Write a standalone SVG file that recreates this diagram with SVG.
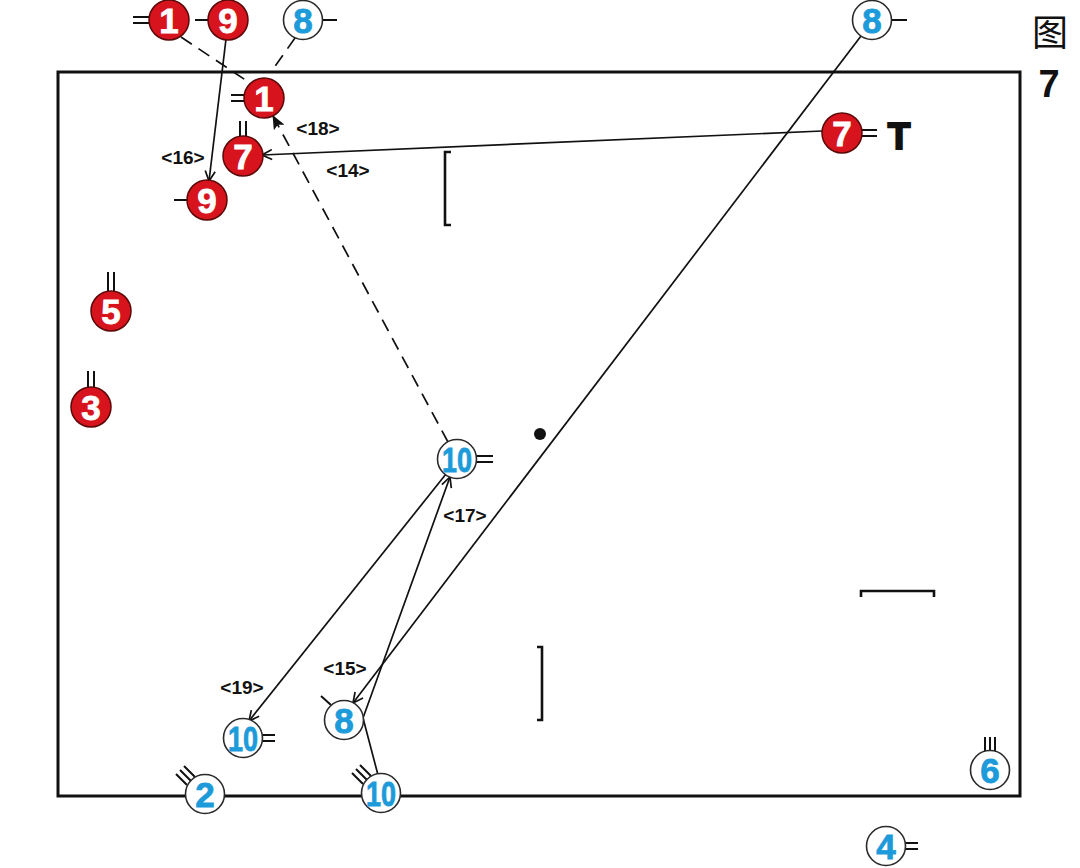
<svg xmlns="http://www.w3.org/2000/svg" width="1080" height="868" viewBox="0 0 1080 868">
<defs>
<style>
.red circle{fill:#d7141d;stroke:#5a0808;stroke-width:1.5}
.blue circle{fill:#ffffff;stroke:#2a2a2a;stroke-width:1.6}
.red text{fill:#ffffff;font-family:"Liberation Sans",Arial,sans-serif;font-weight:bold;font-size:35px;text-anchor:middle;stroke:#ffffff;stroke-width:0.8}
.blue text{fill:#1c9ad9;font-family:"Liberation Sans",Arial,sans-serif;font-weight:bold;font-size:35px;text-anchor:middle;stroke:#1c9ad9;stroke-width:0.8}
.tick{stroke:#111;stroke-width:2;fill:none}
.ln{stroke:#111;stroke-width:1.7;fill:none}
.dash{stroke:#111;stroke-width:1.7;fill:none;stroke-dasharray:13 8}
.lbl{font-family:"Liberation Sans",Arial,sans-serif;font-weight:bold;font-size:19px;fill:#111;text-anchor:middle}
.brk{stroke:#111;stroke-width:2.6;fill:none}
</style>
<marker id="open" viewBox="0 0 12 12" refX="11" refY="6" markerWidth="12" markerHeight="12" markerUnits="userSpaceOnUse" orient="auto">
<path d="M1,1 L11,6 L1,11" fill="none" stroke="#111" stroke-width="1.7"/>
</marker>
<marker id="solid" viewBox="0 0 14 12" refX="13" refY="6" markerWidth="14" markerHeight="12" markerUnits="userSpaceOnUse" orient="auto">
<path d="M0,0 L14,6 L0,12 L3,6 Z" fill="#111"/>
</marker>
</defs>
<rect width="1080" height="868" fill="#ffffff"/>
<g id="field">
<rect x="58" y="72" width="962" height="724" fill="none" stroke="#111" stroke-width="3"/>
<path class="brk" d="M451,152 L445,152 L445,225 L451,225"/>
<path class="brk" d="M537,647 L542,647 L542,720 L537,720"/>
<path class="brk" d="M861,597 L861,591 L934,591 L934,597"/>
<circle cx="540" cy="434" r="6" fill="#111"/>
</g>
<g id="title">
<text x="1050" y="46" font-family="'Noto Sans CJK SC',sans-serif" font-size="36" fill="#111" text-anchor="middle">图</text>
<text x="1049" y="97" font-family="'Liberation Sans',Arial,sans-serif" font-weight="bold" font-size="38" fill="#111" text-anchor="middle">7</text>
</g>
<g id="connectors">
<line class="dash" x1="181" y1="37" x2="253" y2="85"/>
<line class="dash" x1="295" y1="38" x2="271" y2="72"/>
<line class="ln" x1="226" y1="39" x2="209" y2="181" marker-end="url(#open)"/>
<line class="ln" x1="822" y1="131" x2="262" y2="155" marker-end="url(#open)"/>
<line class="dash" x1="448" y1="442" x2="273" y2="116" marker-end="url(#solid)"/>
<line class="ln" x1="861" y1="36" x2="353" y2="703" marker-end="url(#open)"/>
<polyline class="ln" points="378,775 363,718 450,477" marker-end="url(#open)"/>
<line class="ln" x1="446" y1="474" x2="249" y2="721" marker-end="url(#open)"/>
<text class="lbl" x="318" y="135">&lt;18&gt;</text>
<text class="lbl" x="183" y="164">&lt;16&gt;</text>
<text class="lbl" x="348" y="177">&lt;14&gt;</text>
<text class="lbl" x="465" y="522">&lt;17&gt;</text>
<text class="lbl" x="345" y="675">&lt;15&gt;</text>
<text class="lbl" x="242" y="694">&lt;19&gt;</text>
</g>
<g id="red1top" class="red">
<path class="tick" d="M133,17 H150 M133,23 H150"/>
<circle cx="169" cy="20" r="20"/><text x="169" y="33">1</text>
</g>
<g id="red9top" class="red">
<path class="tick" d="M195,20 H209"/>
<circle cx="228" cy="20" r="20"/><text x="228" y="33">9</text>
</g>
<g id="blue8top" class="blue">
<path class="tick" d="M322,20 H337"/>
<circle cx="303" cy="20" r="19.5"/><text x="303" y="33">8</text>
</g>
<g id="blue8topright" class="blue">
<path class="tick" d="M891,20 H907"/>
<circle cx="872" cy="20" r="19.5"/><text x="872" y="33">8</text>
</g>
<g id="red1" class="red">
<path class="tick" d="M231,95 H245 M231,101 H245"/>
<circle cx="264" cy="98" r="20"/><text x="264" y="111">1</text>
</g>
<g id="red7" class="red">
<path class="tick" d="M240,121 V137 M246,121 V137"/>
<circle cx="243" cy="156" r="20"/><text x="243" y="169">7</text>
</g>
<g id="red9" class="red">
<path class="tick" d="M174,200 H188"/>
<circle cx="207" cy="200" r="20"/><text x="207" y="213">9</text>
</g>
<g id="red7right" class="red">
<path class="tick" d="M861,130 H877 M861,136 H877"/>
<circle cx="842" cy="133" r="20"/><text x="842" y="146">7</text>
<text x="899" y="149" style="fill:#111;stroke:#111;stroke-width:2;font-size:37px">T</text>
</g>
<g id="red5" class="red">
<path class="tick" d="M108,272 V291 M114,272 V291"/>
<circle cx="111" cy="311" r="20"/><text x="111" y="324">5</text>
</g>
<g id="red3" class="red">
<path class="tick" d="M88,371 V388 M94,371 V388"/>
<circle cx="91" cy="407" r="20"/><text x="91" y="420">3</text>
</g>
<g id="blue10mid" class="blue">
<path class="tick" d="M476,456 H493 M476,462 H493"/>
<circle cx="457" cy="459" r="19.5"/><text x="457" y="472" textLength="30" lengthAdjust="spacingAndGlyphs">10</text>
</g>
<g id="blue10ll" class="blue">
<path class="tick" d="M262,735 H275 M262,741 H275"/>
<circle cx="243" cy="738" r="19.5"/><text x="243" y="751" textLength="30" lengthAdjust="spacingAndGlyphs">10</text>
</g>
<g id="blue8low" class="blue">
<path class="tick" d="M321,696 L331,705"/>
<circle cx="344" cy="720" r="19.5"/><text x="344" y="733">8</text>
</g>
<g id="blue2" class="blue">
<path class="tick" d="M184,766 L195,777 M180,770 L191,781 M176,774 L187,785"/>
<circle cx="205" cy="794" r="19.5"/><text x="205" y="807">2</text>
</g>
<g id="blue10bottom" class="blue">
<path class="tick" d="M360,765 L371,776 M356,769 L367,780 M352,773 L363,784"/>
<circle cx="381" cy="793" r="19.5"/><text x="381" y="806" textLength="30" lengthAdjust="spacingAndGlyphs">10</text>
</g>
<g id="blue6" class="blue">
<path class="tick" d="M985,737 V751 M990,737 V751 M995,737 V751"/>
<circle cx="990" cy="770" r="19.5"/><text x="990" y="783">6</text>
</g>
<g id="blue4" class="blue">
<path class="tick" d="M905,843 H918 M905,849 H918"/>
<circle cx="886" cy="846" r="19.5"/><text x="886" y="859">4</text>
</g>
</svg>
